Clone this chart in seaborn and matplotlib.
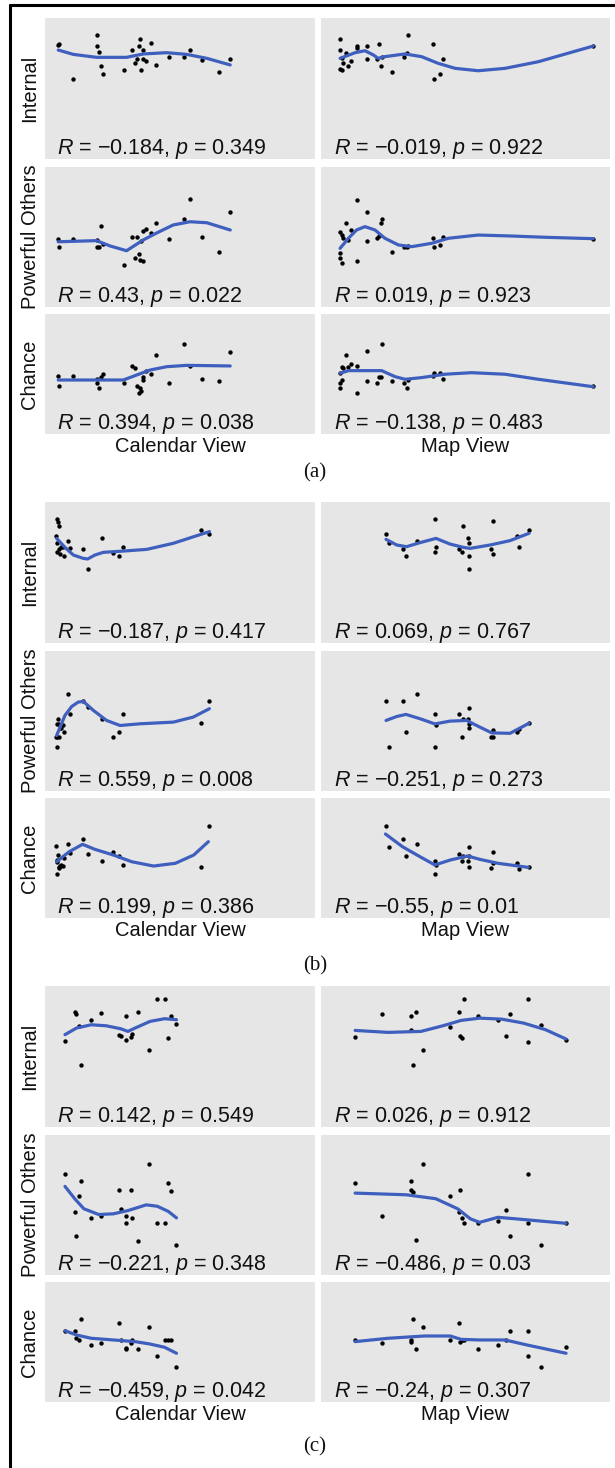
import matplotlib
matplotlib.use('Agg')
import matplotlib.pyplot as plt
import seaborn as sns
from matplotlib.lines import Line2D

# ---- data (x and y read as % of each panel, same x for every row of a column) ----
cal_a_x = [4.9, 5.3, 10.5, 19.1, 19.3, 20.0, 20.7, 21.6, 29.3, 32.3, 33.3, 34.0, 34.9,
           35.3, 35.6, 36.2, 36.4, 37.3, 39.1, 41.1, 46.0, 51.6, 53.6, 58.0, 64.3, 68.6]
cal_a_internal = [80.9, 81.8, 57.0, 87.9, 80.1, 75.7, 66.2, 60.0, 63.1, 77.3, 68.3, 70.7, 80.1,
                  84.9, 63.1, 77.3, 70.7, 69.5, 82.0, 66.4, 72.6, 72.6, 77.3, 70.2, 61.7, 70.9]
cal_a_powerful = [48.8, 42.6, 48.8, 43.1, 47.9, 42.6, 57.9, 45.0, 30.0, 50.2, 34.8, 50.2, 37.9,
                  33.6, 47.4, 33.1, 54.3, 55.5, 52.9, 59.8, 48.8, 62.9, 76.9, 50.2, 39.1, 67.6]
cal_a_chance = [48.6, 40.0, 48.6, 45.6, 42.3, 38.1, 47.3, 50.0, 42.8, 56.7, 55.3, 40.0, 33.9,
                38.1, 36.1, 47.8, 45.0, 52.5, 50.0, 65.8, 42.8, 74.8, 56.7, 45.8, 44.2, 68.6]
cal_a_internal_fit_x = [4.9, 10.5, 19.1, 30.2, 36.4, 45.0, 52.5, 59.9, 68.6]
cal_a_internal_fit = [77.3, 74.2, 72.1, 72.1, 74.5, 75.4, 74.2, 71.4, 66.7]
cal_a_powerful_fit_x = [4.9, 19.1, 24.1, 30.2, 36.4, 41.4, 47.5, 53.7, 59.9, 68.6]
cal_a_powerful_fit = [46.6, 47.4, 43.6, 40.2, 47.9, 52.9, 58.6, 60.9, 60.2, 55.0]
cal_a_chance_fit_x = [4.9, 29.0, 34.0, 38.9, 45.1, 52.5, 68.6]
cal_a_chance_fit = [45.0, 45.0, 49.2, 53.3, 56.1, 57.2, 56.7]

map_a_x = [6.6, 6.6, 6.7, 7.2, 7.4, 7.7, 8.5, 9.5, 10.4, 12.3, 12.5, 16.0, 16.0,
           19.3, 20.1, 20.8, 21.2, 24.7, 28.7, 29.6, 30.2, 38.9, 39.2, 41.2, 42.3, 94.2]
map_a_internal = [84.9, 77.3, 63.6, 63.1, 71.4, 68.3, 75.4, 66.2, 69.5, 80.1, 79.0, 80.1, 70.9,
                  70.7, 81.6, 66.2, 72.6, 61.7, 72.6, 75.4, 87.9, 81.6, 57.0, 60.3, 70.9, 80.1]
map_a_powerful = [53.8, 38.4, 34.8, 31.2, 51.4, 49.1, 59.8, 47.9, 55.0, 76.4, 33.1, 67.6, 47.4,
                  49.1, 50.7, 59.8, 62.9, 39.1, 43.1, 42.6, 43.6, 49.1, 42.6, 44.3, 50.2, 48.8]
map_a_chance = [50.6, 38.1, 42.3, 45.0, 56.1, 54.8, 65.8, 56.1, 58.1, 56.7, 34.4, 69.2, 44.2,
                42.3, 47.8, 47.8, 75.0, 44.2, 42.8, 38.1, 45.0, 48.6, 50.6, 50.6, 45.6, 40.0]
map_a_internal_fit_x = [6.6, 11.8, 15.2, 18.1, 19.8, 22.1, 29.1, 34.8, 40.6, 46.4, 54.4, 63.7, 75.2, 94.2]
map_a_internal_fit = [71.4, 75.4, 76.8, 73.8, 71.4, 72.6, 74.5, 72.6, 67.8, 64.3, 62.6, 64.3, 69.0, 80.1]
map_a_powerful_fit_x = [6.6, 9.5, 12.3, 15.2, 18.7, 22.1, 26.8, 31.4, 38.3, 44.1, 54.4, 66.0, 77.5, 94.2]
map_a_powerful_fit = [41.9, 49.1, 55.0, 57.4, 55.0, 49.1, 44.3, 43.1, 45.5, 49.1, 51.4, 50.7, 49.8, 48.8]
map_a_chance_fit_x = [6.6, 9.5, 15.2, 21.0, 25.6, 29.1, 34.8, 42.9, 52.1, 63.7, 75.2, 94.2]
map_a_chance_fit = [50.6, 52.8, 52.8, 52.8, 47.8, 45.6, 47.0, 49.8, 51.1, 49.8, 45.6, 39.4]

cal_b_x = [4.1, 4.3, 4.3, 4.6, 4.7, 5.2, 5.3, 5.6, 5.8, 6.5, 7.0, 8.6, 9.3, 14.0, 15.8,
           21.2, 25.1, 27.5, 29.0, 57.7, 60.9]
cal_b_internal = [75.9, 87.7, 71.2, 64.8, 86.1, 83.0, 66.4, 63.1, 67.8, 67.8, 61.7, 72.6, 67.1,
                  66.4, 52.5, 74.2, 63.6, 61.9, 67.8, 80.1, 77.3]
cal_b_powerful = [38.8, 31.2, 48.0, 38.8, 51.6, 48.0, 38.8, 45.1, 45.1, 47.0, 42.5, 69.1, 54.7,
                  64.3, 60.0, 51.6, 38.8, 42.0, 54.7, 48.4, 64.3]
cal_b_chance = [60.0, 36.4, 46.9, 48.3, 52.5, 42.2, 41.4, 43.3, 44.0, 43.3, 50.0, 61.4, 53.9,
                65.8, 53.3, 47.5, 55.3, 51.9, 44.2, 42.8, 76.9]
cal_b_internal_fit_x = [4.3, 7.4, 10.5, 14.2, 15.8, 18.5, 21.6, 29.0, 37.7, 47.5, 60.9]
cal_b_internal_fit = [74.2, 67.8, 62.4, 60.0, 59.6, 62.4, 64.3, 65.2, 66.4, 70.7, 79.0]
cal_b_powerful_fit_x = [4.3, 5.6, 7.4, 9.9, 12.3, 14.2, 17.9, 22.8, 27.8, 35.2, 47.5, 54.9, 60.9]
cal_b_powerful_fit = [39.6, 45.6, 54.0, 60.4, 63.5, 64.0, 57.6, 50.4, 46.8, 48.0, 49.2, 52.8, 58.8]
cal_b_chance_fit_x = [4.3, 9.0, 13.9, 18.5, 25.3, 32.1, 40.2, 48.3, 55.1, 60.5]
cal_b_chance_fit = [46.9, 55.3, 61.4, 57.2, 52.5, 46.9, 43.3, 45.6, 52.5, 63.6]

map_b_x = [22.5, 23.5, 28.5, 29.4, 33.3, 39.4, 39.7, 39.4, 47.9, 49.0, 48.7, 50.9, 51.1,
           51.3, 51.3, 58.7, 59.5, 59.5, 67.9, 68.6, 72.0]
map_b_internal = [77.3, 71.2, 66.4, 61.7, 72.6, 87.7, 67.8, 64.8, 66.4, 83.2, 64.8, 74.2, 61.7,
                  71.2, 52.5, 66.4, 86.3, 63.1, 75.9, 67.8, 80.1]
map_b_powerful = [64.3, 31.2, 64.3, 42.0, 69.1, 54.7, 46.8, 31.2, 54.7, 51.6, 38.8, 51.6, 45.1,
                  59.5, 48.0, 38.8, 38.8, 43.6, 42.0, 44.0, 48.4]
map_b_chance = [76.7, 59.4, 65.8, 51.7, 61.4, 47.5, 44.0, 36.4, 53.3, 51.7, 47.5, 47.5, 59.4,
                42.2, 52.0, 41.4, 55.3, 45.6, 45.6, 40.6, 42.2]
map_b_internal_fit_x = [22.5, 26.2, 29.6, 34.3, 39.8, 44.6, 49.3, 51.6, 58.5, 65.4, 72.0]
map_b_internal_fit = [73.5, 69.5, 68.3, 71.2, 74.2, 70.2, 67.8, 67.1, 69.5, 72.6, 77.8]
map_b_powerful_fit_x = [22.5, 26.2, 29.4, 34.3, 39.4, 44.6, 50.4, 55.0, 59.1, 65.4, 72.0]
map_b_powerful_fit = [50.4, 53.2, 54.7, 51.6, 47.9, 49.9, 50.4, 45.6, 41.5, 41.2, 48.4]
map_b_chance_fit_x = [22.3, 28.2, 34.6, 39.4, 44.7, 50.7, 54.9, 61.2, 71.7]
map_b_chance_fit = [70.0, 59.4, 50.6, 44.2, 48.3, 51.7, 48.9, 45.6, 42.2]

cal_c_x = [7.4, 11.0, 11.3, 12.7, 13.5, 17.0, 20.8, 27.3, 28.0, 30.0, 30.0, 31.8, 32.2,
           34.5, 38.4, 41.6, 44.6, 45.6, 46.7, 48.7]
cal_c_internal = [60.8, 81.9, 80.3, 71.8, 43.7, 76.1, 80.8, 65.3, 64.8, 78.9, 62.0, 63.8, 66.0,
                  81.9, 54.5, 90.8, 90.8, 63.1, 78.9, 73.0]
cal_c_powerful = [71.9, 44.8, 28.1, 56.1, 67.1, 40.5, 41.9, 60.9, 46.8, 37.2, 42.4, 60.9, 40.5,
                  24.5, 79.6, 37.2, 37.2, 65.7, 59.7, 21.6]
cal_c_chance = [59.4, 59.4, 53.1, 51.7, 68.9, 47.5, 48.9, 65.6, 51.7, 45.3, 43.9, 49.4, 52.0,
                43.9, 62.8, 38.3, 51.7, 51.7, 51.7, 28.9]
cal_c_internal_fit_x = [7.4, 11.7, 17.1, 22.6, 28.0, 30.7, 33.4, 38.9, 44.3, 48.7]
cal_c_internal_fit = [65.5, 70.2, 72.5, 71.8, 69.7, 67.8, 70.2, 74.9, 76.8, 76.1]
cal_c_powerful_fit_x = [7.4, 11.0, 14.4, 19.9, 25.3, 30.7, 37.5, 41.6, 45.6, 48.7]
cal_c_powerful_fit = [63.3, 54.5, 47.3, 43.2, 43.7, 46.0, 50.1, 49.1, 45.5, 40.8]
cal_c_chance_fit_x = [7.4, 11.7, 17.1, 25.3, 33.4, 38.9, 44.3, 48.7]
cal_c_chance_fit = [59.4, 55.8, 53.1, 51.7, 50.3, 48.3, 45.6, 40.6]

map_c_x = [11.8, 21.0, 31.0, 31.0, 31.7, 32.9, 35.2, 44.5, 47.6, 48.1, 48.8, 49.5, 54.2,
           61.2, 64.1, 65.3, 71.6, 71.6, 76.2, 84.8]
map_c_internal = [63.6, 80.3, 78.9, 68.5, 43.7, 81.9, 54.5, 70.9, 81.9, 64.8, 63.1, 90.8, 78.9,
                  76.1, 64.8, 80.3, 90.8, 60.3, 72.5, 62.0]
map_c_powerful = [65.7, 41.9, 67.1, 60.4, 59.2, 25.0, 79.6, 56.3, 44.8, 60.9, 40.5, 37.2, 37.2,
                  38.8, 46.5, 28.1, 71.9, 37.2, 21.6, 37.2]
map_c_chance = [51.7, 48.9, 51.7, 50.3, 68.9, 43.9, 62.8, 51.7, 65.6, 50.3, 51.7, 52.0, 43.9,
                47.5, 51.7, 59.4, 59.4, 38.3, 28.9, 45.6]
map_c_internal_fit_x = [11.8, 23.2, 34.6, 42.2, 48.5, 54.9, 62.5, 70.1, 77.7, 84.8]
map_c_internal_fit = [68.5, 67.1, 67.8, 71.8, 75.6, 77.2, 76.5, 73.7, 69.0, 62.4]
map_c_powerful_fit_x = [11.8, 29.5, 39.7, 47.3, 51.7, 54.9, 61.2, 67.5, 84.8]
map_c_powerful_fit = [58.5, 57.3, 54.5, 47.3, 40.1, 37.6, 41.2, 40.1, 36.9]
map_c_chance_fit_x = [11.8, 23.2, 35.8, 44.7, 48.5, 54.9, 63.7, 71.3, 84.8]
map_c_chance_fit = [50.3, 53.1, 55.0, 55.0, 52.2, 51.7, 51.7, 47.5, 40.6]

# R and p per group: rows Internal / Powerful Others / Chance, columns Calendar / Map
r_a = [['−0.184', '−0.019'], ['0.43', '0.019'], ['0.394', '−0.138']]
p_a = [['0.349', '0.922'], ['0.022', '0.923'], ['0.038', '0.483']]
r_b = [['−0.187', '0.069'], ['0.559', '−0.251'], ['0.199', '−0.55']]
p_b = [['0.417', '0.767'], ['0.008', '0.273'], ['0.386', '0.01']]
r_c = [['0.142', '0.026'], ['−0.221', '−0.486'], ['−0.459', '−0.24']]
p_c = [['0.549', '0.912'], ['0.348', '0.03'], ['0.042', '0.307']]

row_names = ['Internal', 'Powerful Others', 'Chance']
col_names = ['Calendar View', 'Map View']
group_names = ['(a)', '(b)', '(c)']

groups = [
    {'x': [cal_a_x, map_a_x],
     'y': [[cal_a_internal, map_a_internal], [cal_a_powerful, map_a_powerful], [cal_a_chance, map_a_chance]],
     'fit': [[(cal_a_internal_fit_x, cal_a_internal_fit), (map_a_internal_fit_x, map_a_internal_fit)],
             [(cal_a_powerful_fit_x, cal_a_powerful_fit), (map_a_powerful_fit_x, map_a_powerful_fit)],
             [(cal_a_chance_fit_x, cal_a_chance_fit), (map_a_chance_fit_x, map_a_chance_fit)]],
     'r': r_a, 'p': p_a},
    {'x': [cal_b_x, map_b_x],
     'y': [[cal_b_internal, map_b_internal], [cal_b_powerful, map_b_powerful], [cal_b_chance, map_b_chance]],
     'fit': [[(cal_b_internal_fit_x, cal_b_internal_fit), (map_b_internal_fit_x, map_b_internal_fit)],
             [(cal_b_powerful_fit_x, cal_b_powerful_fit), (map_b_powerful_fit_x, map_b_powerful_fit)],
             [(cal_b_chance_fit_x, cal_b_chance_fit), (map_b_chance_fit_x, map_b_chance_fit)]],
     'r': r_b, 'p': p_b},
    {'x': [cal_c_x, map_c_x],
     'y': [[cal_c_internal, map_c_internal], [cal_c_powerful, map_c_powerful], [cal_c_chance, map_c_chance]],
     'fit': [[(cal_c_internal_fit_x, cal_c_internal_fit), (map_c_internal_fit_x, map_c_internal_fit)],
             [(cal_c_powerful_fit_x, cal_c_powerful_fit), (map_c_powerful_fit_x, map_c_powerful_fit)],
             [(cal_c_chance_fit_x, cal_c_chance_fit), (map_c_chance_fit_x, map_c_chance_fit)]],
     'r': r_c, 'p': p_c},
]

# ---- style / layout (pixels) ----
sns.set_theme(style='white')
plt.rcParams['font.family'] = ['Liberation Sans', 'DejaVu Sans']
plt.rcParams['mathtext.fontset'] = 'custom'
plt.rcParams['mathtext.rm'] = 'Liberation Sans'
plt.rcParams['mathtext.it'] = 'Liberation Sans:italic'

W, H = 615, 1468
BLUE = '#3F5FBF'
PANEL = '#E6E6E6'
col_left = [45, 321]
col_width = [270, 289]
row_top = [0, 149, 296]
row_height = [141, 140, 120]
group_top = [18, 502, 986]
group_label_y = [473, 966, 1447]

fig = plt.figure(figsize=(W / 100, H / 100), dpi=100)

for g, grp in enumerate(groups):
    y0 = group_top[g]
    for i in range(3):
        for j in range(2):
            left, w = col_left[j], col_width[j]
            top, h = y0 + row_top[i], row_height[i]
            ax = fig.add_axes([left / W, 1 - (top + h) / H, w / W, h / H])
            ax.set_facecolor(PANEL)
            sns.scatterplot(x=grp['x'][j], y=grp['y'][i][j], ax=ax, color='black',
                            s=10, linewidth=0, zorder=2)
            fx, fy = grp['fit'][i][j]
            sns.lineplot(x=fx, y=fy, ax=ax, color=BLUE, linewidth=2.3, zorder=3)
            ax.set_xlim(0, 100)
            ax.set_ylim(0, 100)
            ax.set_xticks([])
            ax.set_yticks([])
            ax.set_xlabel('')
            ax.set_ylabel('')
            for s in ax.spines.values():
                s.set_visible(False)
            label = f"$R$ = {grp['r'][i][j]}, $p$ = {grp['p'][i][j]}"
            ax.text((12 + j) / w, 5 / h, label, transform=ax.transAxes,
                    ha='left', va='baseline', fontsize=15.5, color='#111111')
            if j == 0:
                fig.text(30 / W, 1 - (top + h / 2) / H, row_names[i], rotation=90,
                         ha='center', va='center', fontsize=14.5, color='#111111')
    for j in range(2):
        fig.text((col_left[j] + col_width[j] / 2) / W, 1 - (y0 + 428) / H, col_names[j],
                 ha='center', va='center', fontsize=14.5, color='#111111')
    fig.text(315 / W, 1 - group_label_y[g] / H, group_names[g], ha='center', va='center',
             fontsize=15, family='Liberation Serif', color='#111111')

# frame around the figure (left and top edges visible)
fig.add_artist(Line2D([10 / W, 10 / W], [0, 1 - 5 / H], color='black', linewidth=2.2))
fig.add_artist(Line2D([10 / W, 1], [1 - 5 / H, 1 - 5 / H], color='black', linewidth=2.2))

fig.savefig('out.png', dpi=100)
